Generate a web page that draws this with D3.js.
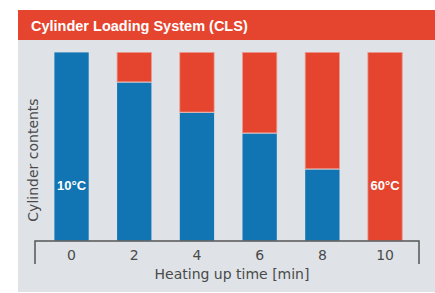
<!DOCTYPE html>
<meta charset="utf-8">
<style>
    body { margin: 0; background: #fff; font-family: "Liberation Sans", Arial, sans-serif; }
</style>
<script src="https://d3js.org/d3.v7.min.js"></script>
<div id="chart"></div>
<script>
    // data (share of cylinder content, %)
    var times = ["0", "2", "4", "6", "8", "10"];
    var cold = [100, 84, 68, 57, 38, 0];
    var hot = [0, 16, 32, 43, 62, 100];
    var tempLabels = [{t: "0", text: "10°C"}, {t: "10", text: "60°C"}];

    var W = 435, H = 293;
    var labelFont = "'DejaVu Sans', 'Liberation Sans', sans-serif";
    var svg = d3.select("#chart").append("svg")
        .attr("width", W).attr("height", H);

    // panel + header
    svg.append("rect").attr("x", 18).attr("y", 40).attr("width", W - 18).attr("height", H - 41)
        .attr("fill", "#dfe3e7");
    svg.append("rect").attr("x", 18).attr("y", 10).attr("width", W - 18).attr("height", 30)
        .attr("fill", "#e5452f");
    svg.append("text").attr("x", 31).attr("y", 31)
        .attr("fill", "#fff").style("font-weight", "bold").style("font-size", "14.5px")
        .text("Cylinder Loading System (CLS)");

    var x = d3.scaleBand().domain(times).range([40.2, 416.4])
        .paddingInner(0.44).paddingOuter(0.22);
    var y = d3.scaleLinear().domain([0, 100]).range([241, 52]);

    var rows = times.map(function(t, i) { return {t: t, cold: cold[i], hot: hot[i]}; });
    var stacked = d3.stack().keys(["cold", "hot"])(rows);
    var color = {cold: "#1175b3", hot: "#e5452f"};

    svg.selectAll("g.layer")
        .data(stacked)
        .enter().append("g")
        .attr("class", "layer")
        .attr("fill", function(d) { return color[d.key]; })
        .attr("stroke", function(d) { return d.key === "hot" ? "#ec9a8e" : "none"; })
        .attr("stroke-width", 0.8)
        .selectAll("rect")
        .data(function(d) { return d.filter(function(v) { return v[1] - v[0] > 0; }); })
        .enter().append("rect")
        .attr("x", function(d) { return x(d.data.t) + 0.4; })
        .attr("width", x.bandwidth() - 0.8)
        .attr("y", function(d) { return y(d[1]) + 0.4; })
        .attr("height", function(d) { return y(d[0]) - y(d[1]) - 0.8; });

    svg.selectAll("text.temp")
        .data(tempLabels)
        .enter().append("text")
        .attr("class", "temp")
        .attr("x", function(d) { return x(d.t) + x.bandwidth() / 2; })
        .attr("y", 190)
        .attr("text-anchor", "middle")
        .attr("fill", "#fff")
        .style("font-weight", "bold")
        .style("font-size", "13px")
        .text(function(d) { return d.text; });

    // x axis
    var xAxis = svg.append("g")
        .attr("transform", "translate(0," + y(0) + ")")
        .call(d3.axisBottom(x).tickSize(0).tickPadding(9));
    xAxis.select(".domain")
        .attr("d", "M35,23V0H419V23")
        .attr("stroke", "#555").attr("stroke-width", 1.5).attr("fill", "none");
    xAxis.selectAll(".tick text")
        .style("font-family", labelFont)
        .style("font-size", "14px")
        .attr("fill", "#4a4a4a");

    svg.append("text")
        .attr("x", 232).attr("y", 279)
        .attr("text-anchor", "middle")
        .attr("fill", "#4a4a4a").style("font-family", labelFont).style("font-size", "14px")
        .text("Heating up time [min]");

    svg.append("text")
        .attr("transform", "translate(38,160) rotate(-90)")
        .attr("text-anchor", "middle")
        .attr("fill", "#4a4a4a").style("font-family", labelFont).style("font-size", "14px")
        .text("Cylinder contents");
</script>
